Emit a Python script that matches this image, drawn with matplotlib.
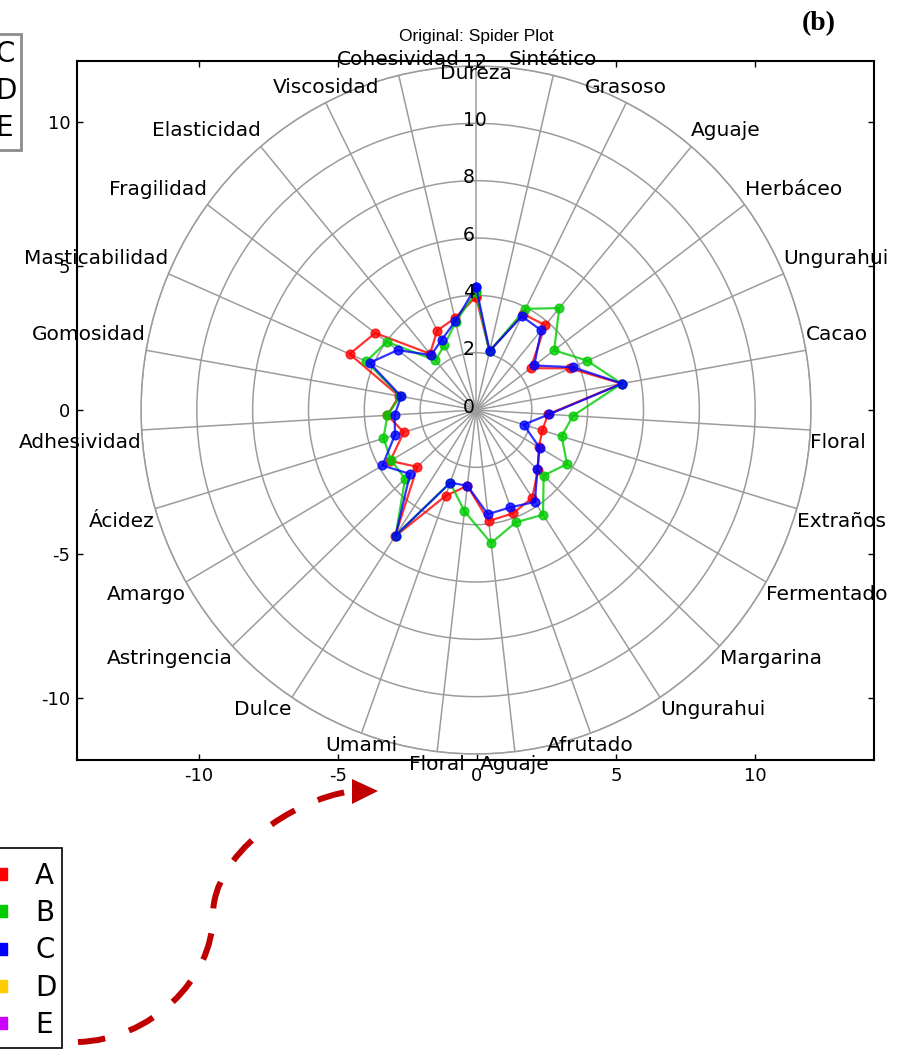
import numpy as np
import matplotlib
matplotlib.use("Agg")
import matplotlib.pyplot as plt
from matplotlib.lines import Line2D
from matplotlib.path import Path
from matplotlib.patches import PathPatch, Polygon, Rectangle

plt.rcParams['font.family'] = ['DejaVu Sans']
plt.rcParams['axes.unicode_minus'] = False

# ---- data -------------------------------------------------------------
attributes = ['Dureza', 'Sintético', 'Grasoso', 'Aguaje', 'Herbáceo', 'Ungurahui',
              'Cacao', 'Floral', 'Extraños', 'Fermentado', 'Margarina', 'Ungurahui',
              'Afrutado', 'Aguaje', 'Floral', 'Umami', 'Dulce', 'Astringencia',
              'Amargo', 'Ácidez', 'Adhesividad', 'Gomosidad', 'Masticabilidad',
              'Fragilidad', 'Elasticidad', 'Viscosidad', 'Cohesividad']

sample_a = [3.95, 2.10, 3.75, 3.86, 2.44, 3.67, 5.30, 2.58, 2.48, 2.60, 3.05, 3.67, 3.84,
            3.90, 2.66, 3.19, 5.28, 2.89, 3.55, 2.70, 3.18, 2.80, 4.93, 4.50, 2.56, 3.10, 3.29]
sample_b = [4.13, 2.10, 3.95, 4.64, 3.49, 4.34, 5.30, 3.48, 3.20, 3.77, 3.33, 4.37, 4.17,
            4.67, 3.56, 2.70, 5.24, 3.49, 3.51, 3.46, 3.18, 2.75, 4.28, 3.99, 2.26, 2.53, 3.15]
sample_c = [4.30, 2.12, 3.66, 3.63, 2.60, 3.77, 5.32, 2.62, 1.78, 2.63, 3.02, 3.84, 3.61,
            3.66, 2.66, 2.70, 5.24, 3.25, 3.87, 3.03, 2.92, 2.72, 4.15, 3.50, 2.50, 2.74, 3.19]

series_names = ['A', 'B', 'C', 'D', 'E']
series_colors = ['#ff0000', '#00cc00', '#0000ff', '#ffcc00', '#cc00ff']
plotted = [sample_a, sample_b, sample_c]

radial_ticks = [0, 2, 4, 6, 8, 10, 12]
cart_ticks = [-10, -5, 0, 5, 10]

# ---- figure -----------------------------------------------------------
W, H = 899, 1056
fig = plt.figure(figsize=(W / 100, H / 100), dpi=100)


def fx(px):
    return px / W


def fy(py):
    return 1 - py / H


# background cartesian frame
ax_c = fig.add_axes([0.0860, 0.2803, 0.8865, 0.6616])
ax_c.set_xlim(-14.36, 14.28)
ax_c.set_ylim(-12.14, 12.09)
ax_c.set_xticks(cart_ticks)
ax_c.set_yticks(cart_ticks)
ax_c.tick_params(direction='in', top=True, right=True, length=4.5, width=1,
                 labelsize=13, pad=5)
for sp in ax_c.spines.values():
    sp.set_linewidth(1.5)

# spider plot on top
grid_col = '#9c9c9c'
ax_p = fig.add_axes([0.15684, 0.28598, 0.74527, 0.65152], projection='polar')
ax_p.set_aspect('auto')
ax_p.patch.set_alpha(0)
ax_p.set_theta_zero_location('N')
ax_p.set_theta_direction(-1)

n = len(attributes)
theta = np.linspace(0, 2 * np.pi, n, endpoint=False)
rmax = radial_ticks[-1]
ax_p.set_ylim(0, rmax)
ax_p.set_xticks(theta)
ax_p.set_xticklabels([''] * n)
ax_p.set_yticks(radial_ticks[1:])
ax_p.set_yticklabels([])
ax_p.grid(True, color=grid_col, linewidth=1.1)
ax_p.spines['polar'].set_color(grid_col)
ax_p.spines['polar'].set_linewidth(1.1)

theta_closed = np.append(theta, theta[0])
for vals, col in zip(plotted, series_colors):
    v = np.append(vals, vals[0])
    ax_p.plot(theta_closed, v, color=col, linewidth=1.6, marker='o',
              markersize=6.3, alpha=0.8, clip_on=False)

# category labels around the rim
for t, lab in zip(theta, attributes):
    s, c = np.sin(t), np.cos(t)
    if abs(s) < 0.5:
        ha = 'center'
    else:
        ha = 'left' if s > 0 else 'right'
    if np.isclose(s, 0) and c > 0:
        va, dy = 'top', 2
    elif c > 0:
        va, dy = 'bottom', 6
    else:
        va, dy = 'top', -3
    ax_p.annotate(lab, xy=(t, rmax), xytext=(0, dy), textcoords='offset pixels',
                  ha=ha, va=va, fontsize=14.5, annotation_clip=False)

# radial tick labels along the vertical spoke
for r in radial_ticks:
    ax_p.annotate(str(r), xy=(0, r), xytext=(-13, 3), textcoords='offset pixels',
                  ha='left', va='center', fontsize=13.5, annotation_clip=False)

# titles
fig.text(fx(476), fy(37), 'Original: Spider Plot', ha='center', va='center',
         fontsize=12.5, family=['Liberation Sans', 'DejaVu Sans'])
fig.text(fx(819), fy(24), '(b)', ha='center', va='center', fontsize=20,
         fontweight='bold', family=['Liberation Serif', 'DejaVu Serif'])

# legends (entries without frame, boxes drawn separately)
handles = [Line2D([], [], linestyle='none', marker='s', markersize=8.5,
                  markerfacecolor=c, markeredgecolor=c) for c in series_colors]
leg_kw = dict(bbox_transform=fig.transFigure, borderaxespad=0, fontsize=20,
              frameon=False, borderpad=0, labelspacing=0.33,
              handlelength=1.0, handletextpad=0.72)
fig.legend(handles, series_names, loc='upper right',
           bbox_to_anchor=(fx(56.5), fy(862)), **leg_kw)
fig.add_artist(Rectangle((fx(-20), fy(1048)), fx(82), fy(848) - fy(1048),
                         transform=fig.transFigure, fill=False,
                         edgecolor='black', linewidth=1.2))

fig.legend(handles[2:], series_names[2:], loc='upper right',
           bbox_to_anchor=(fx(16.5), fy(40)), **leg_kw)
fig.add_artist(Rectangle((fx(-20), fy(150)), fx(41), fy(34) - fy(150),
                         transform=fig.transFigure, fill=False,
                         edgecolor='#8c8c8c', linewidth=2))

# dashed curved arrow
pts = [(78, 1042), (150, 1040), (213, 980), (213, 915), (213, 855), (290, 800), (352, 791)]
codes = [Path.MOVETO] + [Path.CURVE4] * 6
arrow_path = Path([(fx(x), fy(y)) for x, y in pts], codes)
fig.add_artist(PathPatch(arrow_path, transform=fig.transFigure, fill=False,
                         edgecolor='#c00000', linewidth=4.3,
                         linestyle=(0, (4.6, 4.2)), capstyle='butt'))
head = [(352, 779), (352, 804), (378, 791)]
fig.add_artist(Polygon([(fx(x), fy(y)) for x, y in head], closed=True,
                       transform=fig.transFigure, facecolor='#c00000',
                       edgecolor='none'))

fig.savefig('out.png', dpi=100)
